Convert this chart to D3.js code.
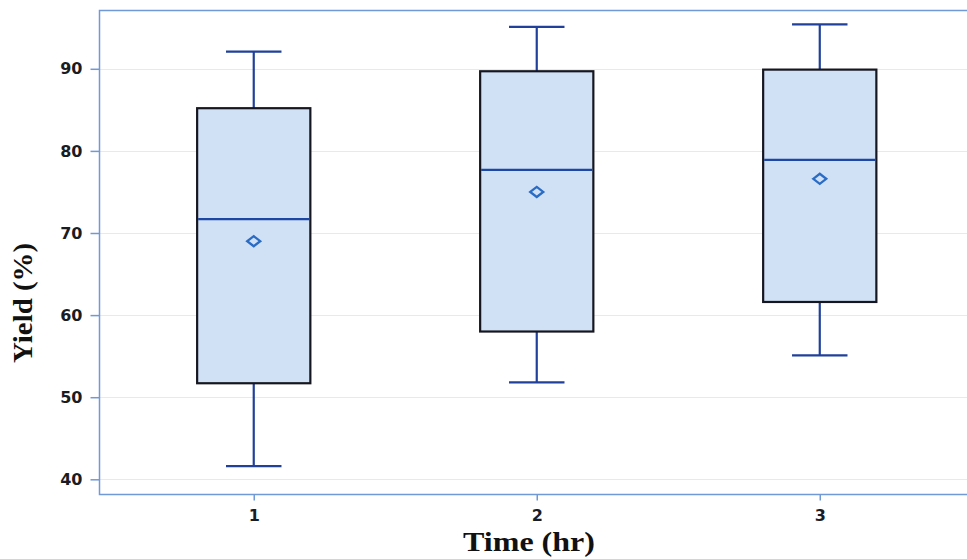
<!DOCTYPE html>
<html>
<head>
<meta charset="utf-8">
<script src="https://cdn.jsdelivr.net/npm/d3@7"></script>
<style>
  html, body { margin: 0; padding: 0; background: #ffffff; }
  svg { display: block; }
</style>
</head>
<body>
<script>
// Yield by reaction time: box-plot summary per group
const times        = ["1", "2", "3"];
const whiskerLow   = [41.6, 51.8, 55.1];
const quartile1    = [51.7, 58.0, 61.6];
const medians      = [71.7, 77.7, 78.9];
const quartile3    = [85.2, 89.7, 89.9];
const whiskerHigh  = [92.1, 95.1, 95.4];
const means        = [69.0, 75.0, 76.6];
const yTicks       = [40, 50, 60, 70, 80, 90];

const W = 967, H = 559;
const plot = { left: 99.5, top: 10.5, bottom: 494.5, right: 974 };

const svg = d3.select("body").append("svg")
  .attr("width", W).attr("height", H);

const x = d3.scalePoint()
  .domain(times)
  .range([plot.left, plot.right])
  .padding(0.545);

const y = d3.scaleLinear()
  .domain([38.15, 97.1])
  .range([plot.bottom, plot.top]);

const step = x.step();
const boxW = step * 0.4;
const capW = boxW * 0.49;

// horizontal grid lines
svg.append("g").selectAll("line")
  .data(yTicks)
  .join("line")
  .attr("x1", plot.left).attr("x2", plot.right)
  .attr("y1", d => Math.round(y(d)) + 0.5)
  .attr("y2", d => Math.round(y(d)) + 0.5)
  .attr("stroke", "#e0ebf8").attr("stroke-width", 1.2);

const groups = times.map((t, i) => ({
  t, lo: whiskerLow[i], q1: quartile1[i], med: medians[i],
  q3: quartile3[i], hi: whiskerHigh[i], mean: means[i]
}));

const whiskerColor = "#21409a";
const g = svg.append("g").selectAll("g")
  .data(groups).join("g");

// whisker stems
g.append("line")
  .attr("x1", d => x(d.t)).attr("x2", d => x(d.t))
  .attr("y1", d => y(d.hi)).attr("y2", d => y(d.q3))
  .attr("stroke", whiskerColor).attr("stroke-width", 2.2);
g.append("line")
  .attr("x1", d => x(d.t)).attr("x2", d => x(d.t))
  .attr("y1", d => y(d.q1)).attr("y2", d => y(d.lo))
  .attr("stroke", whiskerColor).attr("stroke-width", 2.2);

// whisker caps
g.append("line")
  .attr("x1", d => x(d.t) - capW / 2).attr("x2", d => x(d.t) + capW / 2)
  .attr("y1", d => y(d.hi)).attr("y2", d => y(d.hi))
  .attr("stroke", whiskerColor).attr("stroke-width", 2.2);
g.append("line")
  .attr("x1", d => x(d.t) - capW / 2).attr("x2", d => x(d.t) + capW / 2)
  .attr("y1", d => y(d.lo)).attr("y2", d => y(d.lo))
  .attr("stroke", whiskerColor).attr("stroke-width", 2.2);

// interquartile boxes
g.append("rect")
  .attr("x", d => x(d.t) - boxW / 2)
  .attr("width", boxW)
  .attr("y", d => y(d.q3))
  .attr("height", d => y(d.q1) - y(d.q3))
  .attr("fill", "#d0e1f5")
  .attr("stroke", "#15161f").attr("stroke-width", 2.2);

// medians
g.append("line")
  .attr("x1", d => x(d.t) - boxW / 2 + 1).attr("x2", d => x(d.t) + boxW / 2 - 1)
  .attr("y1", d => y(d.med)).attr("y2", d => y(d.med))
  .attr("stroke", "#1c47a3").attr("stroke-width", 2.2);

// mean markers
const dw = 6.5, dh = 5;
g.append("path")
  .attr("d", d => {
    const cx = x(d.t), cy = y(d.mean);
    return `M${cx - dw},${cy}L${cx},${cy - dh}L${cx + dw},${cy}L${cx},${cy + dh}Z`;
  })
  .attr("fill", "none")
  .attr("stroke", "#2a6cc4").attr("stroke-width", 2.3);

// plot frame (left, top and bottom edges; the right edge lies past the page)
const frameColor = "#7099d6";
svg.append("path")
  .attr("d", `M${plot.right},${plot.top}H${plot.left}V${plot.bottom}H${plot.right}`)
  .attr("fill", "none")
  .attr("stroke", frameColor).attr("stroke-width", 1.5);

const tickFont = sel => sel
  .attr("fill", "#1b1b22")
  .style("font-family", "'DejaVu Sans', Verdana, sans-serif")
  .style("font-weight", "bold")
  .style("font-size", "16px");

// y axis
const yAxis = svg.append("g")
  .attr("transform", `translate(${plot.left},0)`)
  .call(d3.axisLeft(y).tickValues(yTicks).tickSize(9).tickPadding(8));
yAxis.select(".domain").remove();
yAxis.selectAll(".tick line").attr("stroke", frameColor).attr("stroke-width", 1.5);
yAxis.selectAll(".tick text").call(tickFont);

// x axis
const xAxis = svg.append("g")
  .attr("transform", `translate(0,${plot.bottom})`)
  .call(d3.axisBottom(x).tickSize(6).tickPadding(9));
xAxis.select(".domain").remove();
xAxis.selectAll(".tick line").attr("stroke", frameColor).attr("stroke-width", 1.5);
xAxis.selectAll(".tick text").call(tickFont);

// axis titles
svg.append("text")
  .attr("x", 529).attr("y", 551)
  .attr("text-anchor", "middle")
  .attr("textLength", 132).attr("lengthAdjust", "spacingAndGlyphs")
  .style("font-family", "'Liberation Serif', 'Times New Roman', serif")
  .style("font-weight", "bold")
  .style("font-size", "27px")
  .attr("fill", "#111")
  .text("Time (hr)");

svg.append("text")
  .attr("transform", "translate(32,303) rotate(-90)")
  .attr("text-anchor", "middle")
  .attr("textLength", 120).attr("lengthAdjust", "spacingAndGlyphs")
  .style("font-family", "'Liberation Serif', 'Times New Roman', serif")
  .style("font-weight", "bold")
  .style("font-size", "27px")
  .attr("fill", "#111")
  .text("Yield (%)");
</script>
</body>
</html>
